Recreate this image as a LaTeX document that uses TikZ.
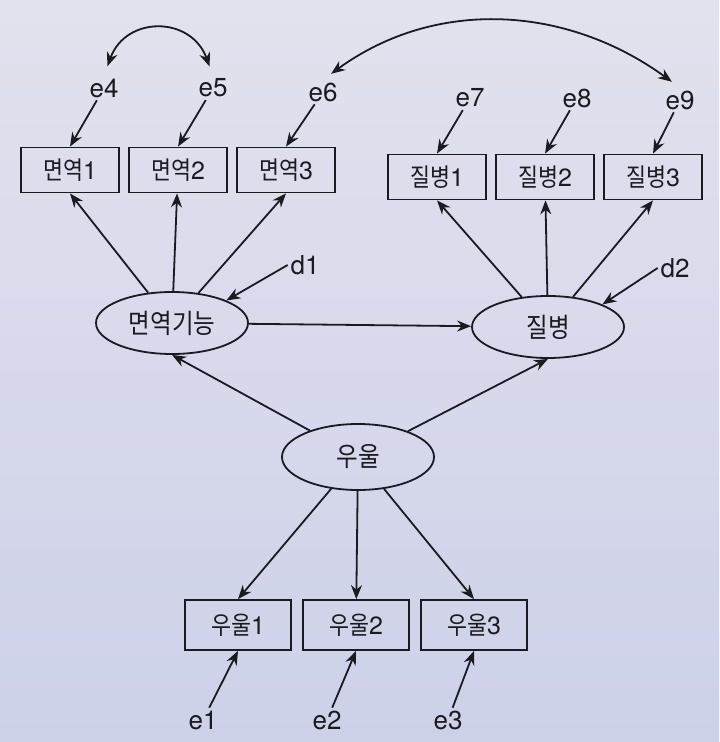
\documentclass[tikz,border=0pt]{standalone}
\usepackage{fontspec}
\setmainfont{TeX Gyre Heros}
\newfontfamily\kr[FakeStretch=0.87]{Noto Sans CJK KR}
\usetikzlibrary{shapes.geometric,arrows.meta}
\definecolor{ink}{HTML}{1A1A22}
\definecolor{bgtop}{HTML}{E2E2EE}
\definecolor{bgbot}{HTML}{CDD1E8}

\begin{document}
\begin{tikzpicture}[x=0.5pt,y=0.5pt,>={Stealth[length=7pt,width=5.5pt]},
    lat/.style = {draw, ellipse, line width=0.9pt, inner sep=0pt, minimum width=76pt, minimum height=31pt, font=\fontsize{13.5}{15}\selectfont},
    obs/.style = {draw, rectangle, line width=0.9pt, inner sep=0pt, minimum width=49pt, minimum height=22.5pt},
    err/.style = {inner sep=1pt, font=\fontsize{13}{15}\selectfont},
    every node/.style = {font=\fontsize{12.5}{14}\selectfont, text=ink},
    color=ink, line width=0.9pt,
    node distance={54pt}]
        \shade[top color=bgtop, bottom color=bgbot] (0,0) rectangle (719,-742);
        \useasboundingbox (0,0) rectangle (719,-742);
        % latent
        \node[lat] (mf) at (172,-323) {\kr 면역기능};
        \node[lat] (jb) at (548,-327) {\kr 질병};
        \node[lat, minimum height=33pt] (uu) at (358,-457) {\kr 우울};
        % indicators
        \node[obs] (m1) at (70,-170) {{\kr 면역}1};
        \node[obs] (m2) [right of=m1] {{\kr 면역}2};
        \node[obs] (m3) [right of=m2] {{\kr 면역}3};
        \node[obs] (j1) at (437,-177) {{\kr 질병}1};
        \node[obs] (j2) [right of=j1] {{\kr 질병}2};
        \node[obs] (j3) [right of=j2] {{\kr 질병}3};
        \node[obs, minimum width=53pt, minimum height=25pt] (u1) at (238,-625) {{\kr 우울}1};
        \node[obs, minimum width=53pt, minimum height=25pt, node distance=59pt] (u2) [right of=u1] {{\kr 우울}2};
        \node[obs, minimum width=53pt, minimum height=25pt, node distance=59pt] (u3) [right of=u2] {{\kr 우울}3};
        % errors
        \node[err] (e4) at (104,-88) {e4};
        \node[err] (e5) at (213,-88) {e5};
        \node[err] (e6) at (323,-92) {e6};
        \node[err] (e7) at (470,-98) {e7};
        \node[err] (e8) at (577,-98) {e8};
        \node[err] (e9) at (680,-100) {e9};
        \node[err] (d1) at (305,-265) {d1};
        \node[err] (d2) at (675,-268) {d2};
        \node[err] (e1) at (203,-720) {e1};
        \node[err] (e2) at (327,-720) {e2};
        \node[err] (e3) at (448,-720) {e3};
        \draw[->] (e4) -- (m1.north);
        \draw[->] (e5) -- (m2.north);
        \draw[->] (e6) -- (m3.north);
        \draw[->] (e7) -- (j1.north);
        \draw[->] (e8) -- (j2.north);
        \draw[->] (e9) -- (j3.north);
        \draw[->] (d1.west) -- (mf.north east);
        \draw[->] (d2.west) -- (jb.north east);
        \draw[->] (e1) -- (u1.south);
        \draw[->] (e2) -- (u2.south);
        \draw[->] (e3) -- (u3.south);
        % loadings
        \draw[->] (mf) -- (m1.south);
        \draw[->] (mf) -- (m2);
        \draw[->] (mf) -- (m3.south);
        \draw[->] (jb) -- (j1.south);
        \draw[->] (jb) -- (j2);
        \draw[->] (jb) -- (j3.south);
        \draw[->] (uu) -- (u1.north);
        \draw[->] (uu) -- (u2);
        \draw[->] (uu) -- (u3.north);
        % structural
        \draw[->] (mf) -- (jb);
        \draw[->] (uu) -- (mf.south);
        \draw[->] (uu) -- (jb.south);
        % covariances
        \draw[<->, shorten <=5pt, shorten >=5pt] (e4.north) to[out=70, in=110, looseness=1.5] (e5.north);
        \draw[<->, shorten <=5pt, shorten >=5pt] (e6.north) to[out=36, in=144] (e9.north);
\end{tikzpicture}
\end{document}
